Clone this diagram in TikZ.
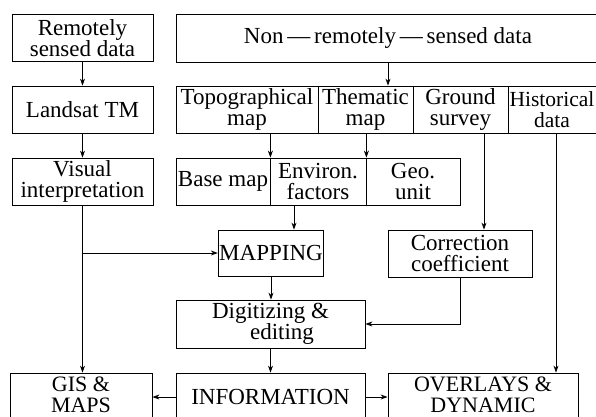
\documentclass[tikz,border=0pt]{standalone}
\usepackage{fontspec}
\setmainfont{Liberation Serif}
\usetikzlibrary{arrows.meta}

\begin{document}
\begin{tikzpicture}[x=1pt, y=-1pt, >={Stealth[length=7pt,width=5pt]}, line width=0.8pt,
    box/.style={draw, inner sep=1pt, align=center, font=\fontsize{23}{21.5}\selectfont},
    side/.style={box, minimum width=141pt, minimum height=47pt},
    cell/.style={box, minimum width=95pt, minimum height=47pt},
    low/.style={box, inner sep=0pt, font=\fontsize{22}{20.5}\selectfont}]
    \useasboundingbox (0,0) rectangle (596,416);
    \clip (0,0) rectangle (596,416);

    % sources
    \node[side] (rsd) at (82.5,38) {Remotely\\sensed data};
    \node[box, minimum width=424pt, minimum height=48pt] (nrsd) at (388,38) {Non\,---\,remotely\,---\,sensed\ data};
    \node[side] (landsat) at (82.5,109.5) {Landsat\ TM};
    \node[box, minimum width=142pt, minimum height=47pt] (topo) at (247,109.5) {Topographical\\map};
    \node[cell] (thematic) at (365.5,109.5) {Thematic\\map};
    \node[cell] (ground) at (460.5,109.5) {Ground\\survey};
    \node[box, inner sep=0pt, minimum width=88pt, minimum height=47pt, font=\fontsize{21.5}{21.5}\selectfont] (historical) at (552,109.5) {Historical\\data};

    % second row
    \node[side] (visual) at (82.5,181.5) {Visual\\interpretation};
    \node[box, minimum width=94pt, minimum height=47pt] (base) at (223,181.5) {Base\ map};
    \node[box, minimum width=96pt, minimum height=47pt] (environ) at (318,181.5) {Environ.\\factors};
    \node[box, minimum width=94pt, minimum height=47pt] (geo) at (413,181.5) {Geo.\\unit};

    % processing
    \node[box, minimum width=94pt, minimum height=46pt] (mapping) at (271,253) {MAPPING};
    \node[box, minimum width=144pt, minimum height=47pt] (correction) at (460,253.5) {Correction\\coefficient};
    \node[box, minimum width=189pt, minimum height=48pt] (digitizing) at (270.5,324) {Digitizing \&\\\quad editing};

    % outputs
    \node[low, minimum width=142pt, minimum height=44pt] (gis) at (81,395) {GIS \&\\MAPS};
    \node[box, minimum width=189pt, minimum height=48pt] (information) at (270.5,397) {INFORMATION};
    \node[low, minimum width=190pt, minimum height=44pt] (overlays) at (483,395) {OVERLAYS \&\\DYNAMIC};

    \coordinate (mapin) at ([xshift=23pt]mapping.north);
    \coordinate (corrin) at ([xshift=24pt]correction.north);
    \coordinate (histout) at ([xshift=4pt]historical.south);

    % connectors
    \draw[->] (rsd) -- (landsat);
    \draw[->] (landsat) -- (visual);
    \draw[->] (nrsd.south) -- (nrsd.south |- thematic.north);
    \draw[->] (base.north east |- topo.south) -- (base.north east);
    \draw[->] (environ.north east |- thematic.south) -- (environ.north east);
    \draw[->] (corrin |- ground.south) -- (corrin);
    \draw[->] (histout) -- (histout |- overlays.north);
    \draw[->] (visual.south) -- (visual.south |- gis.north);
    \draw[->] (visual.south |- mapping.west) -- (mapping.west);
    \draw[->] (mapin |- environ.south) -- (mapin);
    \draw[->] (mapping.south) -- (mapping.south |- digitizing.north);
    \draw[->] (correction.south) |- (digitizing.east);
    \draw[->] (digitizing.south) -- (digitizing.south |- information.north);
    \draw[->] (information.west) -- (information.west -| gis.east);
    \draw[->] (information.east) -- (information.east -| overlays.west);
\end{tikzpicture}
\end{document}
